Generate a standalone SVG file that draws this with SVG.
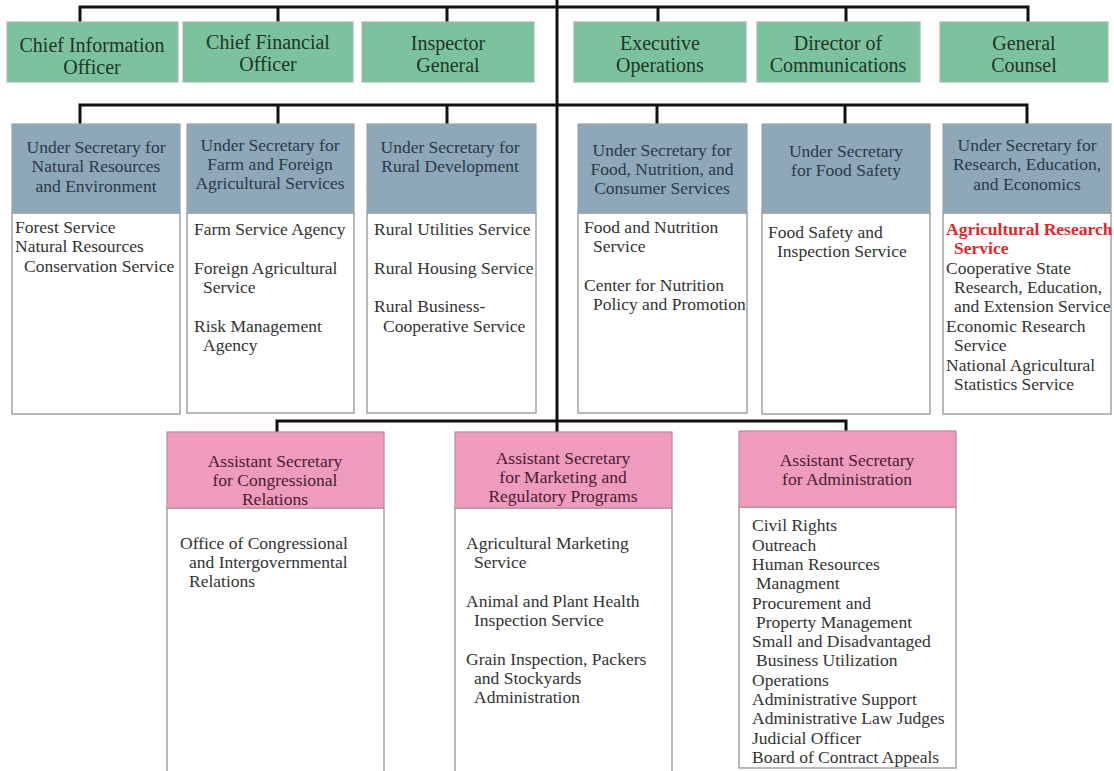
<svg xmlns="http://www.w3.org/2000/svg" width="1114" height="771" viewBox="0 0 1114 771" font-family="'Liberation Serif', 'Times New Roman', 'DejaVu Serif', serif">
<style>
.bg{fill:#ffffff}
.green{fill:#7cc29e;stroke:#a9b8ae;stroke-width:1.2}
.hdr{fill:#8ea7b9;stroke:#9aa3a8;stroke-width:1.2}
.pink{fill:#ef9bbd;stroke:#b98a9c;stroke-width:1.2}
.body{fill:#ffffff;stroke:#a3a3a3;stroke-width:1.5}
.conn{stroke:#111;stroke-width:3;fill:none}
.gt{font-family:'Liberation Serif', serif;font-size:20px;fill:#1f3528;text-anchor:middle}
.ht{font-family:'Liberation Serif', serif;font-size:17.5px;fill:#2b3a46;text-anchor:middle}
.pt{font-family:'Liberation Serif', serif;font-size:17.5px;fill:#4a2030;text-anchor:middle}
.bt{font-family:'Liberation Serif', serif;font-size:17.5px;fill:#333333}
.red{fill:#e0282c;font-weight:bold}
</style>
<rect class="bg" x="0" y="0" width="1114" height="771"/>
<g id="connectors">
<path class="conn" d="M557 0 V421"/>
<path class="conn" d="M80 22 V7 H1028 V22 M278 7 V22 M447 7 V22 M658 7 V22 M846 7 V22"/>
<path class="conn" d="M80 124 V105 H1027 V124 M278 105 V124 M447 105 V124 M657 105 V124 M845 105 V124"/>
<path class="conn" d="M277 432 V421 H846 V431 M557 421 V432"/>
</g>
<g id="cio"><rect class="green" x="7" y="22" width="171" height="60"/><text class="gt" x="92" y="52">Chief Information</text><text class="gt" x="92" y="74">Officer</text></g>
<g id="cfo"><rect class="green" x="183" y="22" width="170" height="60"/><text class="gt" x="268" y="49">Chief Financial</text><text class="gt" x="268" y="71">Officer</text></g>
<g id="ig"><rect class="green" x="362" y="22" width="172" height="60"/><text class="gt" x="448" y="50">Inspector</text><text class="gt" x="448" y="72">General</text></g>
<g id="exec"><rect class="green" x="574" y="22" width="172" height="60"/><text class="gt" x="660" y="50">Executive</text><text class="gt" x="660" y="72">Operations</text></g>
<g id="comm"><rect class="green" x="757" y="22" width="163" height="60"/><text class="gt" x="838" y="50">Director of</text><text class="gt" x="838" y="72">Communications</text></g>
<g id="counsel"><rect class="green" x="940" y="22" width="168" height="60"/><text class="gt" x="1024" y="50">General</text><text class="gt" x="1024" y="72">Counsel</text></g>

<g id="us-nre"><rect class="body" x="12" y="213" width="168" height="201"/><rect class="hdr" x="12" y="124" width="168" height="89"/>
<text class="ht" x="96" y="153">Under Secretary for</text><text class="ht" x="96" y="172">Natural Resources</text><text class="ht" x="96" y="192">and Environment</text>
<text class="bt" x="15" y="233">Forest Service</text><text class="bt" x="15" y="252">Natural Resources</text><text class="bt" x="24" y="272">Conservation Service</text></g>

<g id="us-ffas"><rect class="body" x="187" y="213" width="167" height="200"/><rect class="hdr" x="187" y="124" width="167" height="89"/>
<text class="ht" x="270" y="151">Under Secretary for</text><text class="ht" x="270" y="170">Farm and Foreign</text><text class="ht" x="270" y="189">Agricultural Services</text>
<text class="bt" x="194" y="235">Farm Service Agency</text><text class="bt" x="194" y="274">Foreign Agricultural</text><text class="bt" x="203" y="293">Service</text><text class="bt" x="194" y="332">Risk Management</text><text class="bt" x="203" y="351">Agency</text></g>

<g id="us-rd"><rect class="body" x="367" y="213" width="169" height="200"/><rect class="hdr" x="367" y="124" width="169" height="89"/>
<text class="ht" x="450" y="153">Under Secretary for</text><text class="ht" x="450" y="172">Rural Development</text>
<text class="bt" x="374" y="235">Rural Utilities Service</text><text class="bt" x="374" y="274">Rural Housing Service</text><text class="bt" x="374" y="312">Rural Business-</text><text class="bt" x="383" y="332">Cooperative Service</text></g>

<g id="us-fncs"><rect class="body" x="578" y="213" width="169" height="200"/><rect class="hdr" x="578" y="124" width="169" height="89"/>
<text class="ht" x="662" y="156">Under Secretary for</text><text class="ht" x="662" y="175">Food, Nutrition, and</text><text class="ht" x="662" y="194">Consumer Services</text>
<text class="bt" x="584" y="233">Food and Nutrition</text><text class="bt" x="593" y="252">Service</text><text class="bt" x="584" y="291">Center for Nutrition</text><text class="bt" x="593" y="310">Policy and Promotion</text></g>

<g id="us-fs"><rect class="body" x="762" y="213" width="168" height="201"/><rect class="hdr" x="762" y="124" width="168" height="89"/>
<text class="ht" x="846" y="157">Under Secretary</text><text class="ht" x="846" y="176">for Food Safety</text>
<text class="bt" x="768" y="238">Food Safety and</text><text class="bt" x="777" y="257">Inspection Service</text></g>

<g id="us-ree"><rect class="body" x="943" y="213" width="168" height="201"/><rect class="hdr" x="943" y="124" width="168" height="89"/>
<text class="ht" x="1027" y="151">Under Secretary for</text><text class="ht" x="1027" y="170">Research, Education,</text><text class="ht" x="1027" y="190">and Economics</text>
<text class="bt red" x="946" y="235">Agricultural Research</text><text class="bt red" x="954" y="254">Service</text>
<text class="bt" x="946" y="274">Cooperative State</text><text class="bt" x="954" y="293">Research, Education,</text><text class="bt" x="954" y="312">and Extension Service</text><text class="bt" x="946" y="332">Economic Research</text><text class="bt" x="954" y="351">Service</text><text class="bt" x="946" y="371">National Agricultural</text><text class="bt" x="954" y="390">Statistics Service</text></g>

<g id="as-cr"><rect class="body" x="167" y="508" width="217" height="270"/><rect class="pink" x="167" y="432" width="217" height="76"/>
<text class="pt" x="275" y="467">Assistant Secretary</text><text class="pt" x="275" y="486">for Congressional</text><text class="pt" x="275" y="505">Relations</text>
<text class="bt" x="180" y="549">Office of Congressional</text><text class="bt" x="189" y="568">and Intergovernmental</text><text class="bt" x="189" y="587">Relations</text></g>

<g id="as-mrp"><rect class="body" x="455" y="508" width="217" height="270"/><rect class="pink" x="455" y="432" width="217" height="76"/>
<text class="pt" x="563" y="464">Assistant Secretary</text><text class="pt" x="563" y="483">for Marketing and</text><text class="pt" x="563" y="502">Regulatory Programs</text>
<text class="bt" x="466" y="549">Agricultural Marketing</text><text class="bt" x="474" y="568">Service</text><text class="bt" x="466" y="607">Animal and Plant Health</text><text class="bt" x="474" y="626">Inspection Service</text><text class="bt" x="466" y="665">Grain Inspection, Packers</text><text class="bt" x="474" y="684">and Stockyards</text><text class="bt" x="474" y="703">Administration</text></g>

<g id="as-adm"><rect class="body" x="739" y="507" width="217" height="261"/><rect class="pink" x="739" y="431" width="217" height="76"/>
<text class="pt" x="847" y="466">Assistant Secretary</text><text class="pt" x="847" y="485">for Administration</text>
<text class="bt" x="752" y="531">Civil Rights</text><text class="bt" x="752" y="551">Outreach</text><text class="bt" x="752" y="570">Human Resources</text><text class="bt" x="756" y="589">Managment</text><text class="bt" x="752" y="609">Procurement and</text><text class="bt" x="756" y="628">Property Management</text><text class="bt" x="752" y="647">Small and Disadvantaged</text><text class="bt" x="756" y="666">Business Utilization</text><text class="bt" x="752" y="686">Operations</text><text class="bt" x="752" y="705">Administrative Support</text><text class="bt" x="752" y="724">Administrative Law Judges</text><text class="bt" x="752" y="744">Judicial Officer</text><text class="bt" x="752" y="763">Board of Contract Appeals</text></g>
</svg>
